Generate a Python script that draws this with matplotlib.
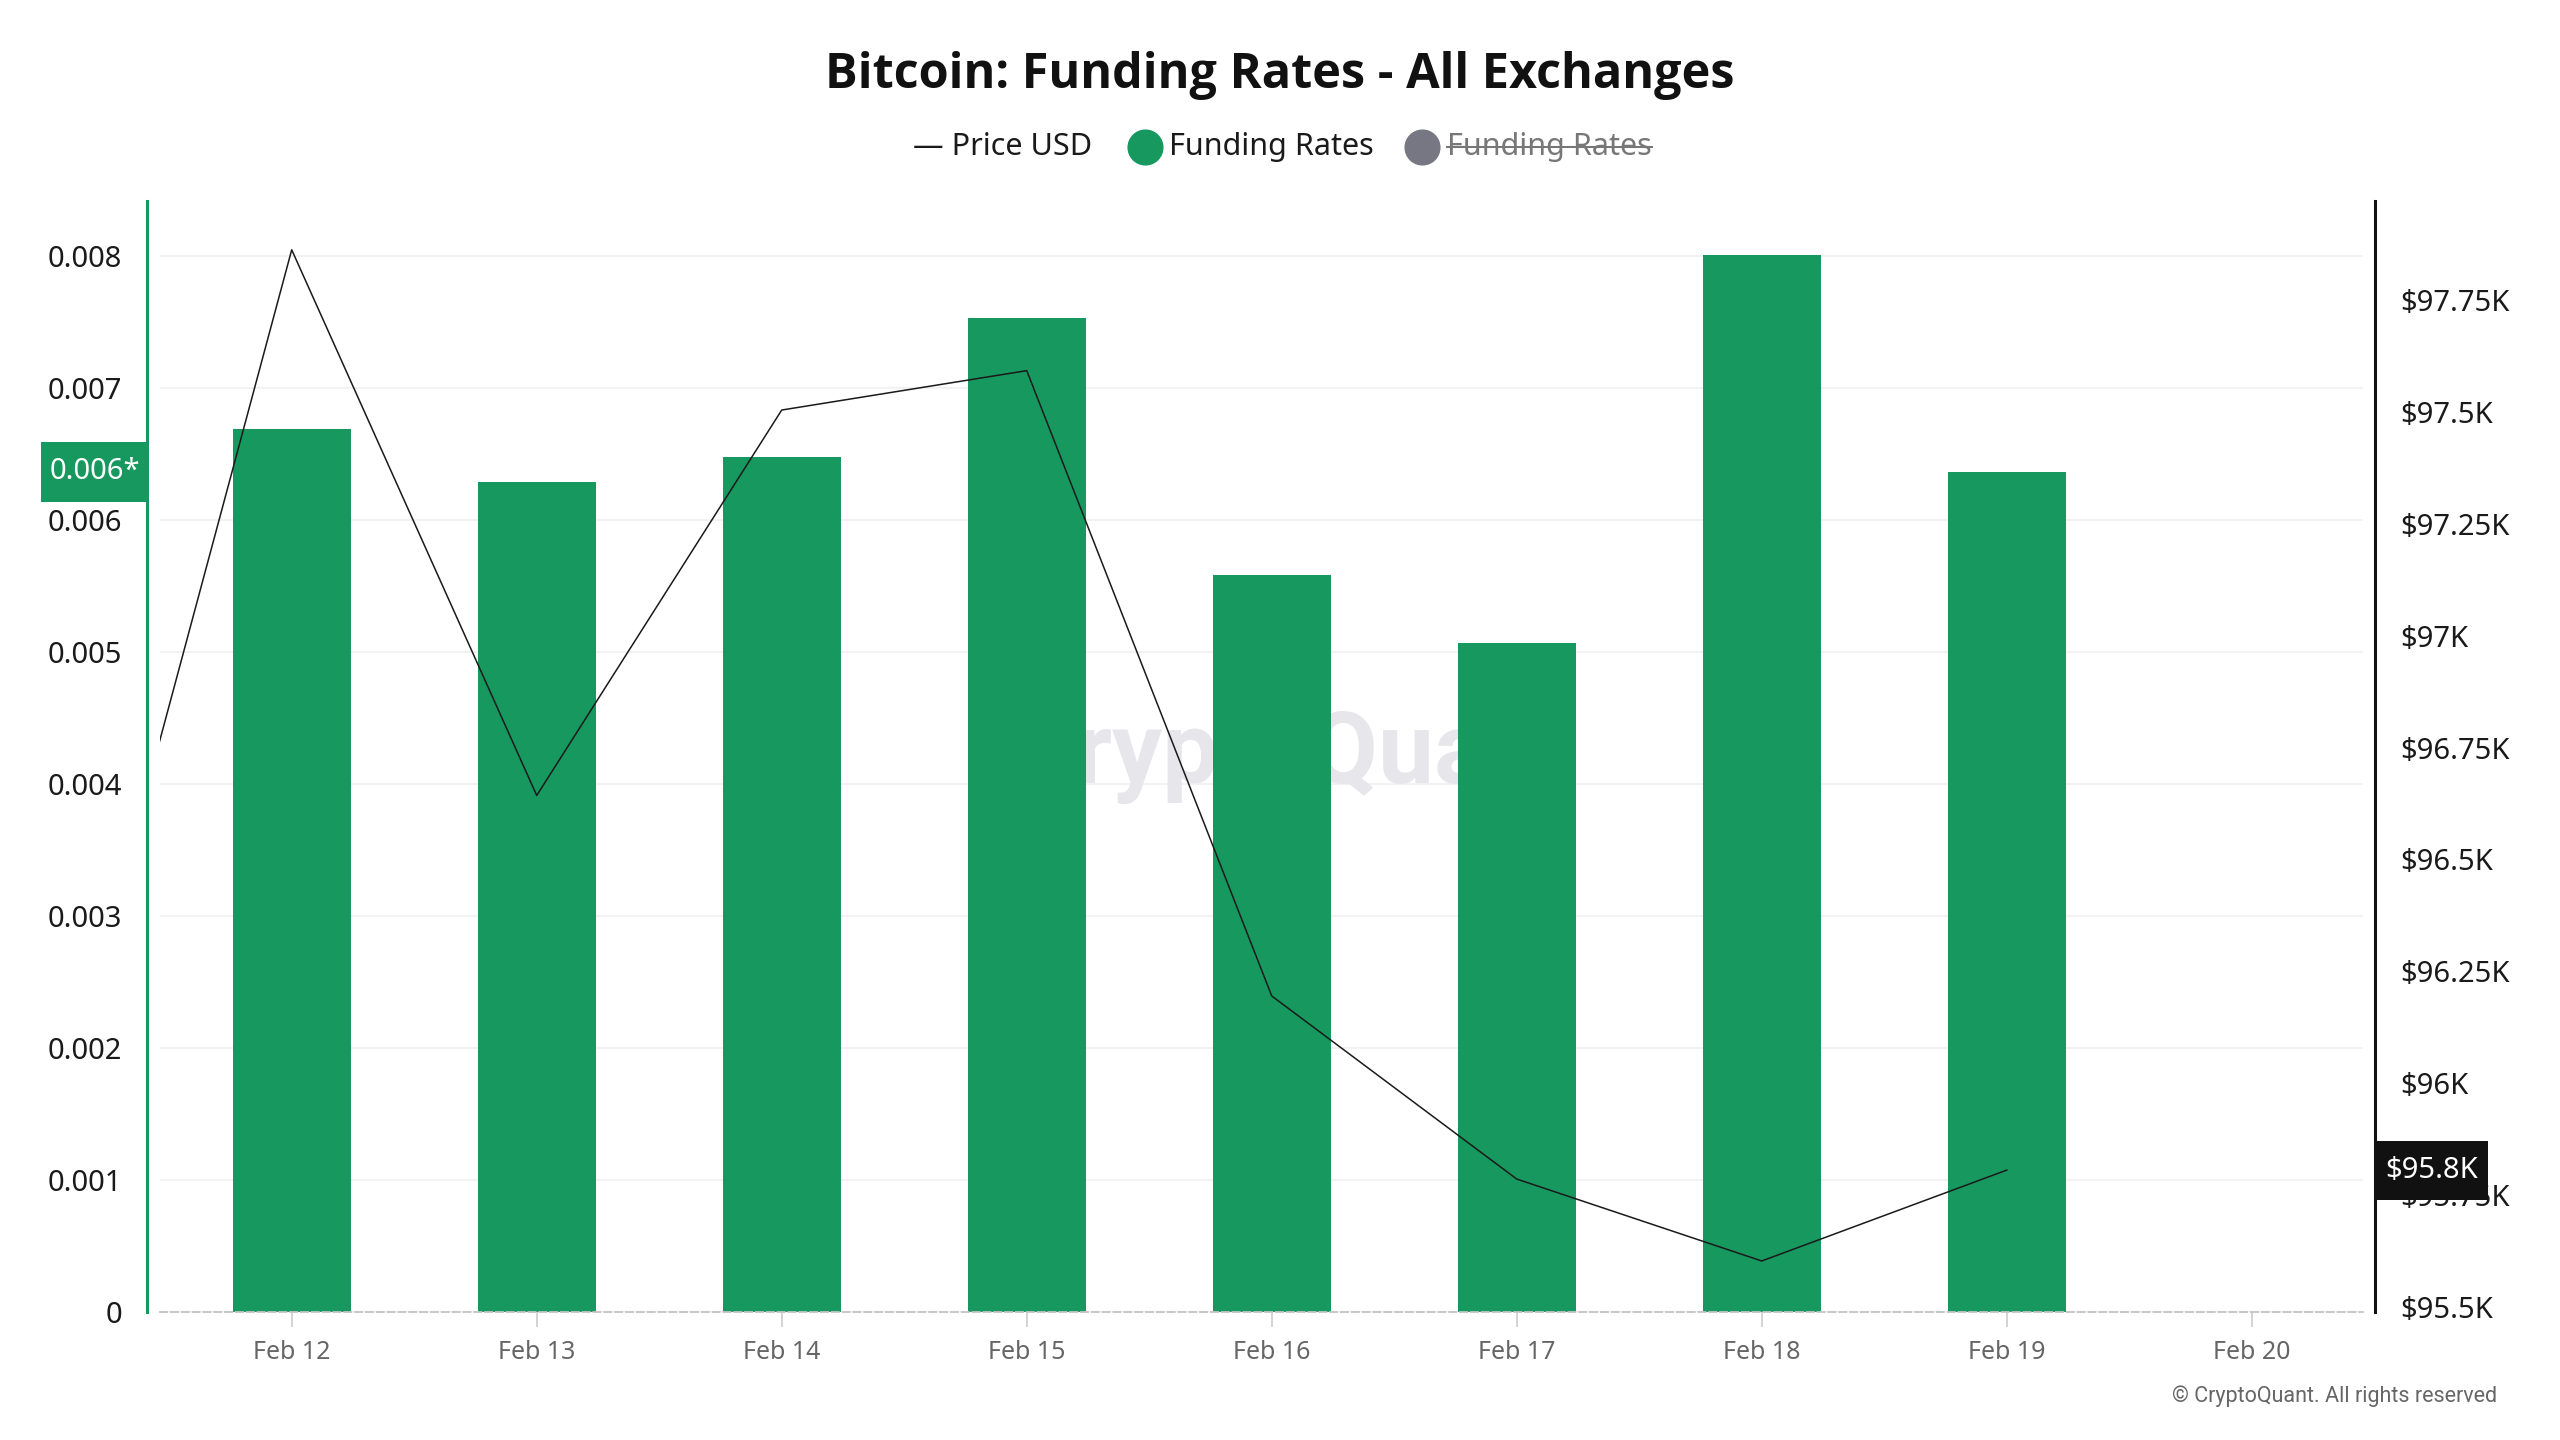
import matplotlib
matplotlib.use("Agg")
import matplotlib.pyplot as plt
import matplotlib.dates as mdates
import matplotlib.transforms as mtransforms
import pandas as pd
from matplotlib.lines import Line2D
from matplotlib.patches import Rectangle
from matplotlib.ticker import FixedLocator, FuncFormatter

# data
tick_dates = pd.to_datetime(["2025-02-12", "2025-02-13", "2025-02-14", "2025-02-15",
                             "2025-02-16", "2025-02-17", "2025-02-18", "2025-02-19",
                             "2025-02-20"])
bar_dates = pd.to_datetime(["2025-02-12", "2025-02-13", "2025-02-14", "2025-02-15",
                            "2025-02-16", "2025-02-17", "2025-02-18", "2025-02-19"])
funding_rates = [0.006686, 0.006290, 0.006476, 0.007527,
                 0.005585, 0.005065, 0.008010, 0.006364]
price_dates = pd.to_datetime(["2025-02-11", "2025-02-12", "2025-02-13", "2025-02-14",
                              "2025-02-15", "2025-02-16", "2025-02-17", "2025-02-18",
                              "2025-02-19"])
price_usd = [95826, 97862, 96643, 97504, 97592, 96195, 95786, 95603, 95806]

left_ticks = [0, 0.001, 0.002, 0.003, 0.004, 0.005, 0.006, 0.007, 0.008]
right_ticks = [95500, 95750, 96000, 96250, 96500, 96750, 97000, 97250, 97500, 97750]

GREEN = "#16985f"
FONT = "Noto Sans"
plt.rcParams["font.family"] = [FONT, "DejaVu Sans"]

W, H = 2560, 1440
fig = plt.figure(figsize=(W / 100, H / 100), dpi=100)
fig.patch.set_facecolor("white")


def fx(px):
    return px / W


def fy(py):
    return 1 - py / H


ax = fig.add_axes([fx(160), fy(1312), fx(2363) - fx(160), fy(201) - fy(1312)])
ax2 = ax.twinx()

# bars (funding rates)
ax.bar(bar_dates, funding_rates, width=0.482, color=GREEN, zorder=2)
ax.set_ylim(0, 0.008417)
ax.yaxis.set_major_locator(FixedLocator(left_ticks))
ax.yaxis.set_major_formatter(FuncFormatter(lambda v, _: "0" if v == 0 else f"{v:.3f}"))
ax.set_axisbelow(True)
ax.grid(axis="y", color="#f2f2f2", lw=1.5)
ax.grid(axis="x", visible=False)

x0 = mdates.date2num(tick_dates[0])
ax.set_xlim(x0 - 0.5376, x0 + 8.454)
ax.xaxis.set_major_locator(FixedLocator(mdates.date2num(tick_dates)))
ax.xaxis.set_major_formatter(mdates.DateFormatter("%b %d"))
ax.tick_params(axis="x", length=11, width=1.2, color="#cccccc", pad=9,
               labelsize=18, labelcolor="#666666")
ax.tick_params(axis="y", length=0, pad=18, labelsize=21, labelcolor="#1a1a1a")

for side in ("top", "right"):
    ax.spines[side].set_visible(False)
ax.spines["left"].set_position(("outward", 9.4))
ax.spines["left"].set_color(GREEN)
ax.spines["left"].set_linewidth(2.2)
ax.spines["bottom"].set_color("#c4c4c4")
ax.spines["bottom"].set_linestyle((0, (4, 2)))
ax.spines["bottom"].set_linewidth(1.3)

# watermark behind bars
ax.text(0.515, 0.5, "CryptoQuant", transform=ax.transAxes, fontsize=72,
        fontweight="bold", color="#e6e6eb", ha="center", va="center", zorder=1,
        family="Roboto")

# price line
ax2.plot(price_dates, price_usd, color="#1a1a1a", lw=1.1, zorder=3)
ax2.set_ylim(95489, 97971)
ax2.yaxis.set_major_locator(FixedLocator(right_ticks))


def fmt_usd(v, _):
    k = v / 1000
    s = f"{k:.2f}".rstrip("0").rstrip(".")
    return f"${s}K"


ax2.yaxis.set_major_formatter(FuncFormatter(fmt_usd))
ax2.tick_params(axis="y", length=0, pad=18.5, labelsize=21, labelcolor="#1a1a1a")
for side in ("top", "left", "bottom"):
    ax2.spines[side].set_visible(False)
ax2.spines["right"].set_position(("outward", 8.6))
ax2.spines["right"].set_color("#111111")
ax2.spines["right"].set_linewidth(2.2)

# current-value flags on both axes
blend_l = mtransforms.blended_transform_factory(ax.transAxes, ax.transData)
fh = 60 / (1312 - 201) * 0.008417
ax.add_patch(Rectangle((-0.054, funding_rates[-1] - fh / 2), 0.0487, fh,
                       transform=blend_l, facecolor=GREEN, edgecolor="none",
                       clip_on=False, zorder=5))
ax.text(-0.0297, funding_rates[-1], "0.006*", transform=blend_l, color="white",
        fontsize=21, ha="center", va="center", zorder=6, clip_on=False)

blend_r = mtransforms.blended_transform_factory(ax2.transAxes, ax2.transData)
ph = 59 / (1312 - 201) * (97971 - 95489)
ax2.add_patch(Rectangle((1.0059, price_usd[-1] - ph / 2), 0.0508, ph,
                        transform=blend_r, facecolor="#111111", edgecolor="none",
                        clip_on=False, zorder=5))
ax2.text(1.0313, price_usd[-1], "$95.8K", transform=blend_r, color="white",
         fontsize=21, ha="center", va="center", zorder=6, clip_on=False)

# title and legend
fig.text(0.5, fy(76), "Bitcoin: Funding Rates - All Exchanges", ha="center",
         va="center", fontsize=35, fontweight="bold", color="#111111",
         family=["Open Sans", "Lato", "DejaVu Sans"])

ly = fy(147)
fig.text(fx(913), ly, "— Price USD", ha="left", va="center", fontsize=22,
         color="#1a1a1a")
fig.add_artist(Line2D([fx(1145)], [ly], marker="o", markersize=25, color=GREEN,
                      transform=fig.transFigure))
fig.text(fx(1169), ly, "Funding Rates", ha="left", va="center", fontsize=22,
         color="#1a1a1a")
fig.add_artist(Line2D([fx(1422)], [ly], marker="o", markersize=25, color="#777783",
                      transform=fig.transFigure))
t = fig.text(fx(1447), ly, "Funding Rates", ha="left", va="center", fontsize=22,
             color="#777777")
fig.canvas.draw()
bb = t.get_window_extent()
fig.add_artist(Line2D([bb.x0 / W, bb.x1 / W], [ly, ly], color="#777777", lw=1.5,
                      transform=fig.transFigure))

fig.text(fx(2497), fy(1396), "© CryptoQuant. All rights reserved", ha="right",
         va="center", fontsize=15.5, color="#666666", family="Roboto")

fig.savefig("out.png", dpi=100, facecolor="white")
